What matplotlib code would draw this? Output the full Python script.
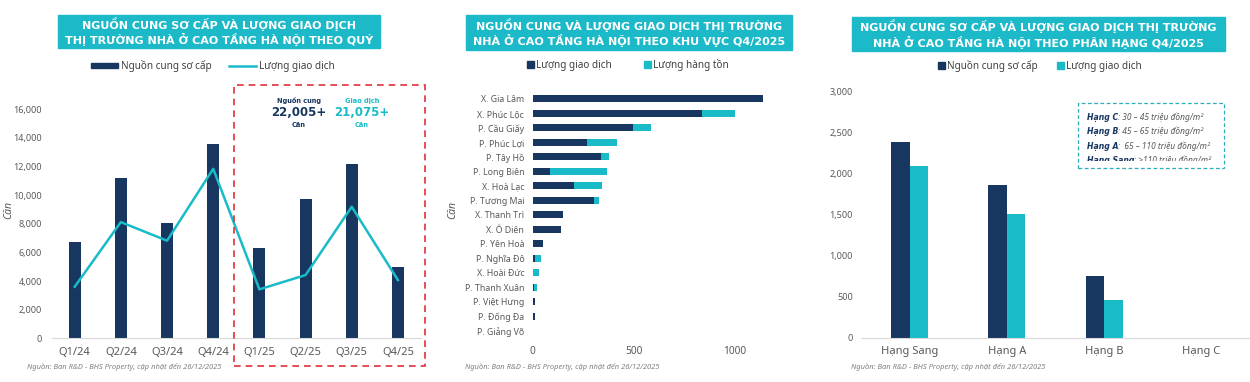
import matplotlib.pyplot as plt
from matplotlib.patches import Rectangle, Patch
from matplotlib.lines import Line2D
from matplotlib.transforms import Bbox, TransformedBbox

plt.rcParams['font.family'] = ['Noto Sans', 'DejaVu Sans']
BOLD = ['DejaVu Sans']

DARK = '#173660'
TEAL = '#19BBC9'
GREY = '#595959'
SPINE = '#D9D9D9'

# chart 1 - by quarter
quarters = ['Q1/24', 'Q2/24', 'Q3/24', 'Q4/24', 'Q1/25', 'Q2/25', 'Q3/25', 'Q4/25']
supply_q = [6700, 11170, 8030, 13570, 6310, 9750, 12170, 5000]
deals_q = [3600, 8120, 6820, 11840, 3420, 4420, 9190, 4070]

# chart 2 - by area
areas = ['X. Gia Lâm', 'X. Phúc Lộc', 'P. Cầu Giấy', 'P. Phúc Lợi', 'P. Tây Hồ', 'P. Long Biên',
         'X. Hoà Lạc', 'P. Tương Mai', 'X. Thanh Trì', 'X. Ô Diên', 'P. Yên Hoà', 'P. Nghĩa Đô',
         'X. Hoài Đức', 'P. Thanh Xuân', 'P. Việt Hưng', 'P. Đống Đa', 'P. Giảng Võ']
deals_a = [1140, 837, 497, 267, 338, 86, 204, 303, 152, 140, 53, 12, 2, 5, 13, 11, 0]
stock_a = [0, 163, 86, 148, 37, 280, 139, 23, 0, 0, 0, 28, 28, 16, 0, 0, 2]

# chart 3 - by grade
grades = ['Hạng Sang', 'Hạng A', 'Hạng B', 'Hạng C']
supply_g = [2375, 1860, 750, 0]
deals_g = [2088, 1508, 462, 0]
grade_notes = [('Hạng C', ': 30 – 45 triệu đồng/m²'),
               ('Hạng B', ': 45 – 65 triệu đồng/m²'),
               ('Hạng A', ':  65 – 110 triệu đồng/m²'),
               ('Hạng Sang', ': >110 triệu đồng/m²')]

W, H = 1250, 382
fig = plt.figure(figsize=(W / 100, H / 100), dpi=100)


def rect(x0, y0, x1, y1):
    # pixel box (top-left origin) -> figure fraction
    return [x0 / W, (H - y1) / H, (x1 - x0) / W, (y1 - y0) / H]


def title(x0, x1, y0, y1, txt):
    fig.patches.append(Rectangle((x0 / W, 1 - y1 / H), (x1 - x0) / W, (y1 - y0) / H,
                                 transform=fig.transFigure, color='#1CB9C8', zorder=0))
    fig.text((x0 + x1) / 2 / W, 1 - (y0 + y1) / 2 / H, txt, ha='center', va='center',
             color='white', fontsize=8.0, fontweight='bold', family=BOLD, linespacing=1.2)


def style(ax):
    for s in ['top', 'right', 'left']:
        ax.spines[s].set_visible(False)
    ax.spines['bottom'].set_color(SPINE)
    ax.tick_params(length=0, colors=GREY, labelsize=6.5)


def source(x):
    fig.text(x / W, 1 - 367 / H, 'Nguồn: Ban R&D - BHS Property, cập nhật đến 26/12/2025',
             fontsize=5.4, style='italic', color='#7F7F7F', va='center')


# ---------- chart 1 ----------
title(58, 380, 15, 48, 'NGUỒN CUNG SƠ CẤP VÀ LƯỢNG GIAO DỊCH\nTHỊ TRƯỜNG NHÀ Ở CAO TẦNG HÀ NỘI THEO QUÝ')
ax1 = fig.add_axes(rect(51.6, 95, 421, 338.3))
x = range(len(quarters))
ax1.bar(x, supply_q, width=0.26, color=DARK, zorder=2)
ax1.plot(x, deals_q, color=TEAL, lw=1.8, zorder=3)
ax1.set_xlim(-0.5, 7.5)
ax1.set_ylim(0, 17000)
ax1.set_yticks(range(0, 16001, 2000))
ax1.set_yticklabels([f'{v:,}' for v in range(0, 16001, 2000)])
ax1.set_xticks(list(x))
ax1.set_xticklabels(quarters)
style(ax1)
ax1.tick_params(axis='x', labelsize=8, pad=6)
ax1.tick_params(axis='y', pad=7)
fig.text(9 / W, 1 - 210 / H, 'Căn', rotation=90, ha='center', va='center', fontsize=7.5,
         style='italic', color=GREY)
fig.legend(handles=[Patch(color=DARK), Line2D([], [], color=TEAL, lw=1.8)],
           labels=['Nguồn cung sơ cấp', 'Lượng giao dịch'], ncol=2, frameon=False,
           loc='center', bbox_to_anchor=(213 / W, 1 - 66 / H), fontsize=7.2,
           handlelength=2.7, handleheight=0.45, handletextpad=0.3, columnspacing=1.8,
           labelcolor='#404040')
fig.patches.append(Rectangle((234 / W, 1 - 366 / H), 191 / W, 281 / H, transform=fig.transFigure,
                             fill=False, ec='#E0303A', lw=1.2, ls=(0, (4, 3)), zorder=5))
for cx, head, num, col in [(299, 'Nguồn cung', '22,005+', DARK), (362, 'Giao dịch', '21,075+', TEAL)]:
    fig.text(cx / W, 1 - 101 / H, head, ha='center', va='center', fontsize=4.8, fontweight='bold',
             family=BOLD, color=col)
    fig.text(cx / W, 1 - 113 / H, num, ha='center', va='center', fontsize=8.5, fontweight='bold',
             family=BOLD, color=col)
    fig.text(cx / W, 1 - 125 / H, 'Căn', ha='center', va='center', fontsize=4.8, fontweight='bold',
             family=BOLD, color=col)
source(27)

# ---------- chart 2 ----------
title(466, 792, 15, 50, 'NGUỒN CUNG VÀ LƯỢNG GIAO DỊCH THỊ TRƯỜNG\nNHÀ Ở CAO TẦNG HÀ NỘI THEO KHU VỰC Q4/2025')
ax2 = fig.add_axes(rect(532.7, 91.7, 775.5, 338))
y = range(len(areas))
ax2.barh(y, deals_a, height=0.48, color=DARK, label='Lượng giao dịch')
ax2.barh(y, stock_a, left=deals_a, height=0.48, color=TEAL, label='Lượng hàng tồn')
ax2.set_ylim(16.5, -0.5)
ax2.set_xlim(0, 1200)
ax2.set_yticks(list(y))
ax2.set_yticklabels(areas)
ax2.set_xticks([0, 500, 1000])
style(ax2)
ax2.spines['bottom'].set_visible(False)
ax2.tick_params(axis='y', labelsize=6.3, pad=6)
ax2.tick_params(axis='x', labelsize=7.3, pad=6)
fig.text(453 / W, 1 - 210 / H, 'Căn', rotation=90, ha='center', va='center', fontsize=7.5,
         style='italic', color=GREY)
fig.legend(handles=[Patch(color=DARK), Patch(color=TEAL)],
           labels=['Lượng giao dịch', 'Lượng hàng tồn'], ncol=2, frameon=False,
           loc='center', bbox_to_anchor=(628 / W, 1 - 65 / H), fontsize=7.2,
           handlelength=0.7, handleheight=0.7, handletextpad=0.2, columnspacing=3.2,
           labelcolor='#404040')
source(465)

# ---------- chart 3 ----------
title(852, 1225, 17, 51, 'NGUỒN CUNG SƠ CẤP VÀ LƯỢNG GIAO DỊCH THỊ TRƯỜNG\nNHÀ Ở CAO TẦNG HÀ NỘI THEO PHÂN HẠNG Q4/2025')
ax3 = fig.add_axes(rect(861, 91, 1250, 337.7))
g = range(len(grades))
ax3.bar([i - 0.095 for i in g], supply_g, width=0.19, color=DARK)
ax3.bar([i + 0.095 for i in g], deals_g, width=0.19, color=TEAL)
ax3.set_xlim(-0.5, 3.5)
ax3.set_ylim(0, 3000)
ax3.set_yticks(range(0, 3001, 500))
ax3.set_yticklabels([f'{v:,}' for v in range(0, 3001, 500)])
ax3.set_xticks(list(g))
ax3.set_xticklabels(grades)
style(ax3)
ax3.tick_params(axis='x', labelsize=8, pad=6)
ax3.tick_params(axis='y', pad=6)
fig.legend(handles=[Patch(color=DARK), Patch(color=TEAL)],
           labels=['Nguồn cung sơ cấp', 'Lượng giao dịch'], ncol=2, frameon=False,
           loc='center', bbox_to_anchor=(1040 / W, 1 - 66 / H), fontsize=7.2,
           handlelength=0.7, handleheight=0.7, handletextpad=0.2, columnspacing=2.0,
           labelcolor='#404040')
fig.patches.append(Rectangle((1078 / W, 1 - 168 / H), 146 / W, 65 / H, transform=fig.transFigure,
                             fill=False, ec='#2AAFB8', lw=0.9, ls=(0, (3, 2)), zorder=5))
clip = TransformedBbox(Bbox.from_bounds(1078 / W, 1 - 161 / H, 146 / W, 58 / H), fig.transFigure)
pairs = []
for i, (lab, rest) in enumerate(grade_notes):
    yy = 1 - (122 + 14.3 * i) / H
    t1 = fig.text(1087 / W, yy, lab, fontsize=5.6, fontweight='bold', style='italic', color=DARK,
                  family=BOLD, va='bottom', clip_on=True)
    t1.set_clip_box(clip)
    t2 = fig.text(0, yy, rest, fontsize=6, style='italic', color=GREY, va='bottom', clip_on=True)
    t2.set_clip_box(clip)
    pairs.append((t1, t2))
fig.canvas.draw()
r = fig.canvas.get_renderer()
for t1, t2 in pairs:
    bb = t1.get_window_extent(r)
    t2.set_x(bb.x1 / W)
source(851)

fig.savefig('out.png', dpi=100)
